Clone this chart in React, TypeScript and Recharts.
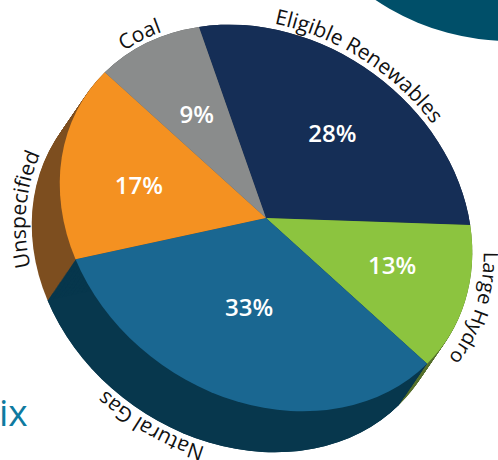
import React from 'react';
import { PieChart, Pie, Sector } from 'recharts';

const SOURCES = ['Eligible Renewables', 'Large Hydro', 'Natural Gas', 'Unspecified', 'Coal'];
const SHARES = [28, 13, 33, 17, 9];
const TOP_COLORS = ['#152e56', '#8cc43f', '#1a6791', '#f49121', '#8a8c8c'];
const SIDE_COLORS = ['#0e1f3a', '#56702c', '#07374d', '#7d4e1f', '#5a5c5c'];
const CORNER = [1];

// tilted look of the original: the pie is squashed along a slanted axis and extruded
const CX = 266;
const CY = 218;
const R = 200;
const TILT = 35;
const SX = 1.09;
const SY = 0.9;
const DEPTH_X = -28;
const DEPTH_Y = 41;
const STEPS = [...Array(43).keys()];

const tilt = `translate(${CX} ${CY}) rotate(${TILT}) scale(${SX} ${SY}) rotate(${-TILT}) translate(${-CX} ${-CY})`;

const pctRadius: Record<string, number> = {
  'Eligible Renewables': 0.6,
  'Large Hydro': 0.626,
  'Natural Gas': 0.485,
  Unspecified: 0.62,
  Coal: 0.594,
};
const pctShift: Record<string, number> = {
  'Eligible Renewables': 1,
  'Large Hydro': -2.7,
  'Natural Gas': 1.7,
  Unspecified: -1.9,
  Coal: 0.7,
};
const nameShift: Record<string, number> = {
  'Eligible Renewables': -5,
  'Large Hydro': 3,
  'Natural Gas': 14.5,
  Coal: -4.5,
};
const nameRadius: Record<string, number> = { 'Large Hydro': 211, Coal: 204 };
const nameSize: Record<string, number> = { 'Large Hydro': 20 };
const onSide = ['Natural Gas', 'Unspecified'];

// circle space -> screen, angle in screen degrees (clockwise from 3 o'clock)
const project = (deg: number, r: number, ox = 0, oy = 0) => {
  const a = ((deg - TILT) * Math.PI) / 180;
  const u = r * Math.cos(a) * SX;
  const v = r * Math.sin(a) * SY;
  const t = (TILT * Math.PI) / 180;
  return {
    x: CX + ox + u * Math.cos(t) - v * Math.sin(t),
    y: CY + oy + u * Math.sin(t) + v * Math.cos(t),
  };
};

const TopSlice = (props: any) => (
  <g transform={tilt}>
    <Sector {...props} stroke="none" />
  </g>
);

const sideSlice = (only?: string) => (props: any) => {
  if (only && props.name !== only) return <g />;
  return (
    <g>
      {STEPS.map((s) => (
        <g key={s} transform={`translate(${(DEPTH_X * s) / 42} ${(DEPTH_Y * s) / 42}) ${tilt}`}>
          <Sector {...props} stroke="none" />
        </g>
      ))}
    </g>
  );
};

const SliceLabel = (props: any) => {
  const { midAngle, name, value } = props;
  const mid = -midAngle;
  const p = project(mid + pctShift[name], R * pctRadius[name]);
  const side = onSide.includes(name);
  const ox = side ? DEPTH_X : 0;
  const oy = side ? DEPTH_Y : 0;
  const center = mid + (nameShift[name] || 0);
  const r = nameRadius[name] || 206;
  const a = project(center - 80, r, ox, oy);
  const b = project(center + 80, r, ox, oy);
  const id = `arc-${props.index}`;
  return (
    <g>
      <text x={p.x} y={p.y} fill="#fff" fontSize={24} fontWeight={600} fontFamily="Open Sans" textAnchor="middle" dominantBaseline="central">
        {value}%
      </text>
      <path id={id} fill="none" d={`M ${a.x} ${a.y} A ${r * SX} ${r * SY} ${TILT} 0 1 ${b.x} ${b.y}`} />
      <text fill="#111" fontSize={nameSize[name] || 21} fontFamily="Open Sans">
        <textPath href={`#${id}`} startOffset="50%" textAnchor="middle">
          {name}
        </textPath>
      </text>
    </g>
  );
};

const App = () => {
  const rows = SOURCES.map((name, i) => ({ name, value: SHARES[i], fill: TOP_COLORS[i] }));
  const sideRows = SOURCES.map((name, i) => ({ name, value: SHARES[i], fill: SIDE_COLORS[i] }));
  const cornerRows = CORNER.map((value) => ({ name: 'corner', value, fill: '#004f69' }));
  const angles = { startAngle: 104, endAngle: -256, cx: CX, cy: CY, outerRadius: R, dataKey: 'value', stroke: 'none', isAnimationActive: false };

  return (
    <div style={{ position: 'absolute', left: 0, top: 0, width: 498, height: 460, overflow: 'hidden' }}>
      <PieChart width={498} height={460} margin={{ top: 0, right: 0, bottom: 0, left: 0 }}>
        <Pie data={cornerRows} dataKey="value" cx={510} cy={-200} outerRadius={241} startAngle={0} endAngle={360} stroke="none" isAnimationActive={false} />
        <Pie {...angles} data={sideRows} shape={sideSlice()} />
        <Pie {...angles} data={sideRows} shape={sideSlice('Natural Gas')} />
        <Pie {...angles} data={rows} shape={TopSlice} label={SliceLabel} labelLine={false} />
        <text x={-1} y={426} fill="#0e7aa0" fontSize={37} fontFamily="Open Sans">ix</text>
      </PieChart>
    </div>
  );
};

export default App;
